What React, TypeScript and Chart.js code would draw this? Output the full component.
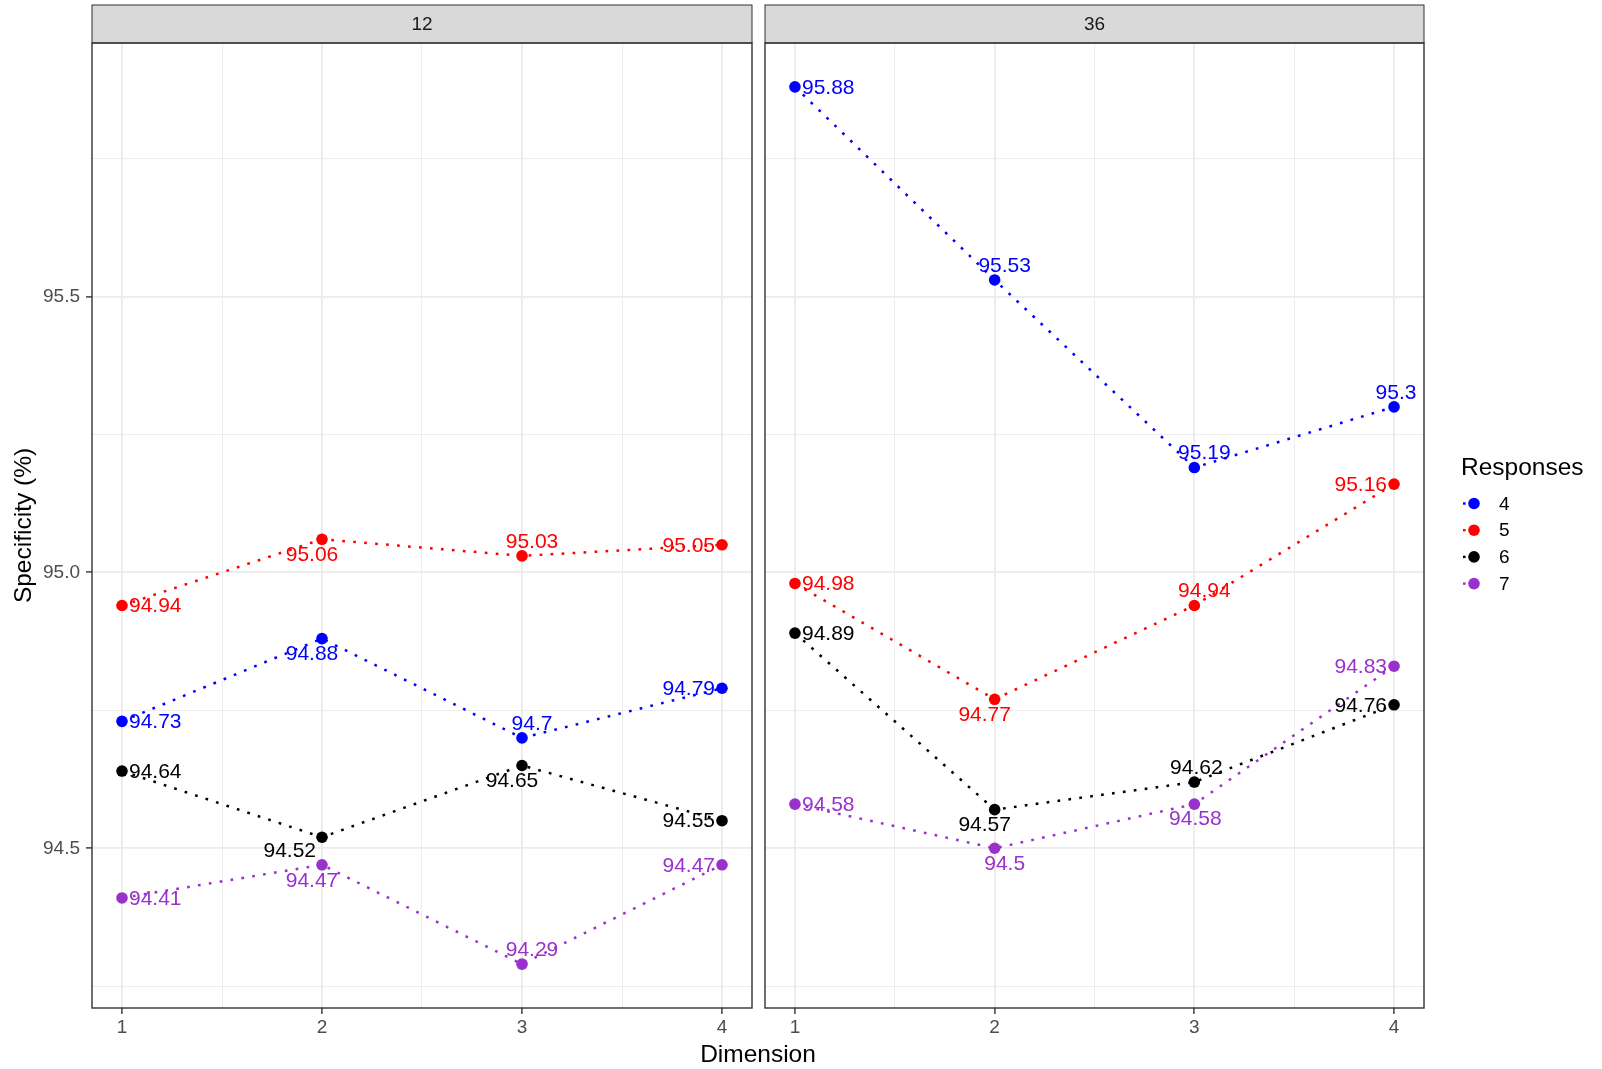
import React, { useEffect, useRef } from 'react';
import { Chart, registerables } from 'chart.js';

Chart.register(...registerables);

// ---------------- data ----------------
const dimensions = [1, 2, 3, 4];
const responseLevels = ['4', '5', '6', '7'];
const panelNames = ['12', '36'];

const spec12_resp4 = [94.73, 94.88, 94.7, 94.79];
const spec12_resp5 = [94.94, 95.06, 95.03, 95.05];
const spec12_resp6 = [94.64, 94.52, 94.65, 94.55];
const spec12_resp7 = [94.41, 94.47, 94.29, 94.47];

const spec36_resp4 = [95.88, 95.53, 95.19, 95.3];
const spec36_resp5 = [94.98, 94.77, 94.94, 95.16];
const spec36_resp6 = [94.89, 94.57, 94.62, 94.76];
const spec36_resp7 = [94.58, 94.5, 94.58, 94.83];

const xMajorTicks = [1, 2, 3, 4];
const xMinorTicks = [1.5, 2.5, 3.5];
const yMajorTicks = [94.5, 95.0, 95.5];
const yMinorTicks = [94.25, 94.75, 95.25, 95.75];

// ---------------- styles ----------------
const FONT = '"Liberation Sans", Arial, Helvetica, sans-serif';
const SERIES_COLORS = ['#0000FF', '#FF0000', '#000000', '#9932CC'];
const W = 1602;
const H = 1069;

// label placement codes (relative to each point)
const PLACE_12 = [
  ['R', 'BL', 'TR', 'L'],
  ['R', 'BL', 'TR', 'L'],
  ['R', 'BW', 'BL', 'L'],
  ['R', 'BL', 'TR', 'L'],
];
const PLACE_36 = [
  ['R', 'TR', 'TR', 'T'],
  ['R', 'BL', 'TR', 'L'],
  ['R', 'BL', 'T', 'L'],
  ['R', 'BR', 'B', 'L'],
];
const OFFSETS: Record<string, { dx: number; dy: number; align: CanvasTextAlign }> = {
  R: { dx: 7, dy: 1, align: 'left' },
  L: { dx: -7, dy: 1, align: 'right' },
  BL: { dx: -10, dy: 16, align: 'center' },
  BR: { dx: 10, dy: 16, align: 'center' },
  TR: { dx: 10, dy: -14, align: 'center' },
  T: { dx: 2, dy: -14, align: 'center' },
  B: { dx: 1, dy: 15, align: 'center' },
  BW: { dx: -6, dy: 14, align: 'right' },
};

const allValues = [
  ...spec12_resp4, ...spec12_resp5, ...spec12_resp6, ...spec12_resp7,
  ...spec36_resp4, ...spec36_resp5, ...spec36_resp6, ...spec36_resp7,
];
const dataMin = Math.min(...allValues);
const dataMax = Math.max(...allValues);
const Y_MIN = dataMin - 0.05 * (dataMax - dataMin);
const Y_MAX = dataMax + 0.05 * (dataMax - dataMin);
const X_MIN = 1 - 0.05 * 3;
const X_MAX = 4 + 0.05 * 3;

function buildDatasets(series: number[][]) {
  return series.map((vals, i) => ({
    label: responseLevels[i],
    data: dimensions.map((d, j) => ({ x: d, y: vals[j] })),
    borderColor: SERIES_COLORS[i],
    backgroundColor: SERIES_COLORS[i],
    pointBackgroundColor: SERIES_COLORS[i],
    pointBorderWidth: 0,
    pointRadius: 5.8,
    pointHoverRadius: 5.8,
    borderWidth: 2.5,
    borderDash: [2.7, 8.3],
    borderCapStyle: 'butt' as const,
    fill: false,
    tension: 0,
  }));
}

function makePanelPlugin(panelName: string, placements: string[][]) {
  return {
    id: 'panelDeco' + panelName,
    afterDatasetsDraw(chart: any) {
      const ctx = chart.ctx as CanvasRenderingContext2D;
      ctx.save();
      ctx.font = `21px ${FONT}`;
      ctx.textBaseline = 'middle';
      chart.data.datasets.forEach((ds: any, di: number) => {
        const meta = chart.getDatasetMeta(di);
        meta.data.forEach((pt: any, i: number) => {
          const off = OFFSETS[placements[di][i]];
          ctx.fillStyle = ds.borderColor;
          ctx.textAlign = off.align;
          ctx.fillText(String(ds.data[i].y), pt.x + off.dx, pt.y + off.dy);
        });
      });
      ctx.restore();
    },
    afterDraw(chart: any) {
      const ctx = chart.ctx as CanvasRenderingContext2D;
      const a = chart.chartArea;
      ctx.save();
      // strip
      ctx.fillStyle = '#D9D9D9';
      ctx.fillRect(a.left, 5, a.right - a.left, a.top - 5);
      ctx.strokeStyle = '#333333';
      ctx.lineWidth = 1;
      ctx.strokeRect(a.left, 5, a.right - a.left, a.top - 5);
      ctx.fillStyle = '#1A1A1A';
      ctx.font = `19px ${FONT}`;
      ctx.textAlign = 'center';
      ctx.textBaseline = 'middle';
      ctx.fillText(panelName, (a.left + a.right) / 2, (5 + a.top) / 2 + 1);
      // panel border
      ctx.strokeStyle = '#333333';
      ctx.lineWidth = 1.4;
      ctx.strokeRect(a.left, a.top, a.right - a.left, a.bottom - a.top);
      ctx.restore();
    },
  };
}

const legendAndTitlePlugin = {
  id: 'legendAndTitle',
  afterDraw(chart: any) {
    const ctx = chart.ctx as CanvasRenderingContext2D;
    ctx.save();
    // x-axis title centred over both panels
    ctx.fillStyle = '#000000';
    ctx.font = `24.5px ${FONT}`;
    ctx.textAlign = 'center';
    ctx.textBaseline = 'alphabetic';
    ctx.fillText('Dimension', 758, 1061.5);
    // legend
    ctx.textAlign = 'left';
    ctx.fillText('Responses', 1461, 475);
    ctx.font = `19px ${FONT}`;
    ctx.textBaseline = 'middle';
    responseLevels.forEach((lvl, i) => {
      const y = 503.5 + i * 26.7;
      ctx.fillStyle = SERIES_COLORS[i];
      ctx.fillRect(1463, y - 1.2, 2.6, 2.4);
      ctx.beginPath();
      ctx.arc(1474, y, 5.8, 0, Math.PI * 2);
      ctx.fill();
      ctx.fillStyle = '#000000';
      ctx.fillText(lvl, 1499, y + 1);
    });
    ctx.restore();
  },
};

function xScale() {
  return {
    type: 'linear' as const,
    min: X_MIN,
    max: X_MAX,
    afterBuildTicks: (s: any) => {
      s.ticks = [...xMajorTicks, ...xMinorTicks].sort((a, b) => a - b).map((v) => ({ value: v }));
    },
    afterFit: (s: any) => {
      s.height = H - 1008;
    },
    ticks: {
      autoSkip: false,
      maxRotation: 0,
      padding: 2.5,
      color: '#4D4D4D',
      font: { size: 19, family: FONT },
      callback: (v: number) => (xMajorTicks.includes(v) ? String(v) : ''),
    },
    grid: {
      color: '#EBEBEB',
      lineWidth: (c: any) => (xMajorTicks.includes(c.tick?.value) ? 1.8 : 0.9),
      tickColor: (c: any) => (xMajorTicks.includes(c.tick?.value) ? '#333333' : 'rgba(0,0,0,0)'),
      tickLength: 6,
      tickWidth: 1.4,
      drawTicks: true,
    },
    border: { display: false },
  };
}

function yScale(showLabels: boolean) {
  return {
    type: 'linear' as const,
    min: Y_MIN,
    max: Y_MAX,
    afterBuildTicks: (s: any) => {
      s.ticks = [...yMajorTicks, ...yMinorTicks].sort((a, b) => a - b).map((v) => ({ value: v }));
    },
    afterFit: (s: any) => {
      s.width = showLabels ? 92 : 0;
    },
    ticks: {
      display: showLabels,
      autoSkip: false,
      padding: 6,
      color: '#4D4D4D',
      font: { size: 19, family: FONT },
      callback: (v: number) => (yMajorTicks.includes(v) ? v.toFixed(1) : ''),
    },
    grid: {
      color: '#EBEBEB',
      lineWidth: (c: any) => (yMajorTicks.includes(c.tick?.value) ? 1.8 : 0.9),
      tickColor: (c: any) =>
        showLabels && yMajorTicks.includes(c.tick?.value) ? '#333333' : 'rgba(0,0,0,0)',
      tickLength: showLabels ? 6 : 0,
      tickWidth: 1.4,
      drawTicks: showLabels,
    },
    border: { display: false },
    title: {
      display: showLabels,
      text: 'Specificity (%)',
      color: '#000000',
      font: { size: 24.5, family: FONT },
      padding: { top: 10, bottom: 0 },
    },
  };
}

function makeConfig(series: number[][], panelName: string, placements: string[][], left: boolean): any {
  return {
    type: 'line',
    data: { datasets: buildDatasets(series) },
    options: {
      responsive: false,
      animation: false,
      events: [],
      layout: {
        padding: left
          ? { left: 0, right: W - 752, top: 43, bottom: 0 }
          : { left: 765, right: W - 1424, top: 43, bottom: 0 },
      },
      plugins: {
        legend: { display: false },
        tooltip: { enabled: false },
        title: { display: false },
      },
      scales: { x: xScale(), y: yScale(left) },
    },
    plugins: left
      ? [makePanelPlugin(panelName, placements)]
      : [makePanelPlugin(panelName, placements), legendAndTitlePlugin],
  };
}

export default function App() {
  const leftRef = useRef<HTMLCanvasElement>(null);
  const rightRef = useRef<HTMLCanvasElement>(null);

  useEffect(() => {
    document.body.style.margin = '0';
    document.body.style.background = '#FFFFFF';
    Chart.defaults.font.family = FONT;
    const c1 = new Chart(
      leftRef.current!,
      makeConfig([spec12_resp4, spec12_resp5, spec12_resp6, spec12_resp7], panelNames[0], PLACE_12, true)
    );
    const c2 = new Chart(
      rightRef.current!,
      makeConfig([spec36_resp4, spec36_resp5, spec36_resp6, spec36_resp7], panelNames[1], PLACE_36, false)
    );
    return () => {
      c1.destroy();
      c2.destroy();
    };
  }, []);

  return (
    <div style={{ position: 'absolute', left: 0, top: 0, width: W, height: H, background: '#FFFFFF' }}>
      <canvas ref={leftRef} width={W} height={H} style={{ position: 'absolute', left: 0, top: 0, width: W, height: H }} />
      <canvas ref={rightRef} width={W} height={H} style={{ position: 'absolute', left: 0, top: 0, width: W, height: H }} />
    </div>
  );
}
